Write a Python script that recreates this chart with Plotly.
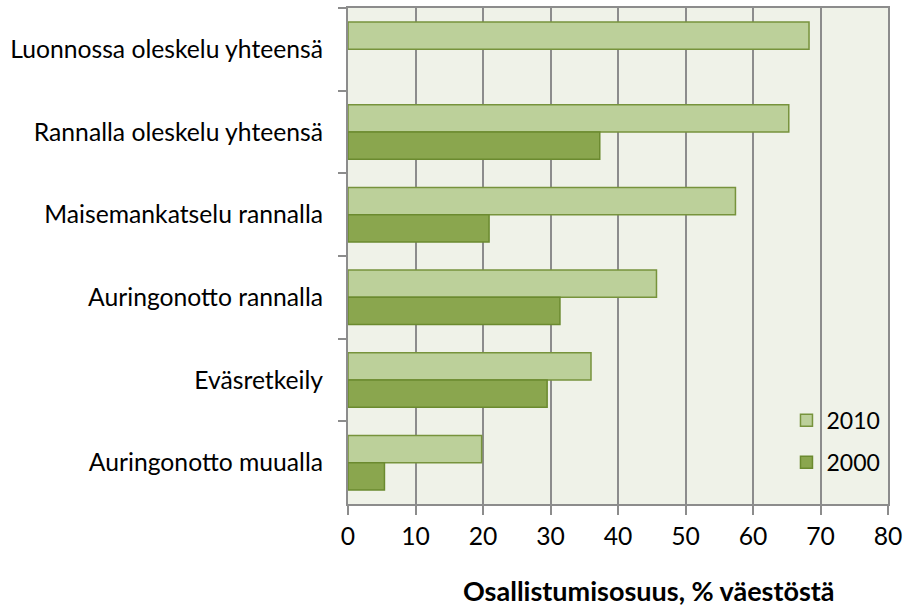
import plotly.graph_objects as go

categories = [
    "Luonnossa oleskelu yhteensä",
    "Rannalla oleskelu yhteensä",
    "Maisemankatselu rannalla",
    "Auringonotto rannalla",
    "Eväsretkeily",
    "Auringonotto muualla",
]
values_2010 = [68.3, 65.3, 57.4, 45.7, 36.0, 19.8]
values_2000 = [None, 37.3, 20.9, 31.4, 29.5, 5.4]
x_ticks = [0, 10, 20, 30, 40, 50, 60, 70, 80]
x_title = "Osallistumisosuus, % väestöstä"

FONT = "Lato"
GRID = "#8c8c8c"
FS = 24.7

fig = go.Figure()
fig.add_trace(go.Bar(
    y=categories, x=values_2010, name="2010", orientation="h",
    marker=dict(color="#bcd09a", line=dict(color="#77933c", width=1.5)),
    legendgroup="a",
))
fig.add_trace(go.Bar(
    y=categories, x=values_2000, name="2000", orientation="h",
    marker=dict(color="#8aa64e", line=dict(color="#6b8a2f", width=1.5)),
    legendgroup="b",
))

fig.update_layout(
    width=908, height=609,
    margin=dict(l=348, r=17, t=6, b=105),
    paper_bgcolor="white",
    plot_bgcolor="#eff2e8",
    barmode="group",
    bargap=0.34,
    bargroupgap=0,
    font=dict(family=FONT, size=FS, color="black"),
    showlegend=True,
    legend=dict(
        x=0.812, y=0.212, xanchor="left", yanchor="top",
        bgcolor="rgba(0,0,0,0)",
        traceorder="grouped",
        tracegroupgap=9,
        font=dict(family=FONT, size=23),
        itemwidth=30,
    ),
    annotations=[dict(
        text="<b>" + x_title + "</b>",
        xref="paper", yref="paper",
        x=0.558, y=-0.175, xanchor="center", yanchor="middle",
        showarrow=False,
        font=dict(family=FONT, size=27, color="black"),
    )],
)
fig.update_xaxes(
    range=[0, 80], tickvals=x_ticks, ticktext=[str(v) for v in x_ticks],
    showgrid=True, gridcolor=GRID, gridwidth=2,
    showline=True, linecolor=GRID, linewidth=2, mirror=True,
    ticks="outside", ticklen=9, tickwidth=2, tickcolor=GRID,
    zeroline=False,
)
fig.update_yaxes(
    autorange="reversed",
    showgrid=False,
    showline=True, linecolor=GRID, linewidth=2, mirror=True,
    ticks="outside", ticklen=8, tickwidth=2, tickcolor=GRID,
    tickson="boundaries",
    ticklabelstandoff=18,
)

fig.write_html(
    "out.html",
    config={"displayModeBar": False},
    post_script="document.body.style.margin='0';document.body.style.overflow='hidden';",
)
